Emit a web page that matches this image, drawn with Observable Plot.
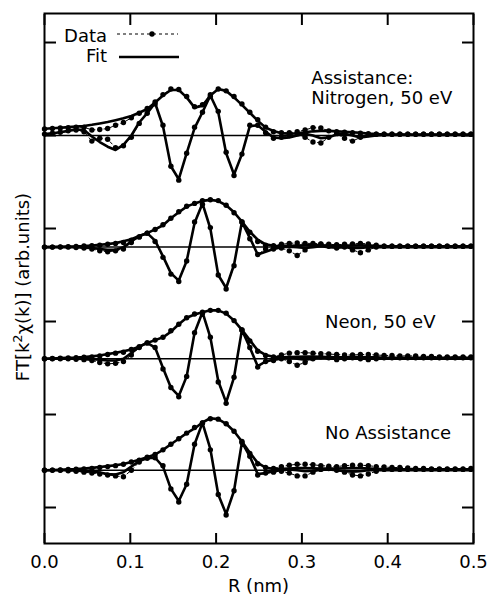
<!DOCTYPE html>
<html><head><meta charset="utf-8">
<script src="https://cdn.jsdelivr.net/npm/d3@7"></script>
<script src="https://cdn.jsdelivr.net/npm/@observablehq/plot@0.6"></script>
<style>
html,body{margin:0;padding:0;background:#fff;}
#chart svg{display:block;}
</style>
</head><body><div id="chart"></div>
<script>
// R grid (nm)
const R = [0,0.0092,0.0184,0.0276,0.0368,0.0460,0.0552,0.0644,0.0736,0.0828,
0.0920,0.1012,0.1104,0.1197,0.1289,0.1381,0.1473,0.1565,0.1657,0.1749,
0.1841,0.1933,0.2025,0.2117,0.2209,0.2301,0.2393,0.2485,0.2577,0.2669,
0.2761,0.2853,0.2945,0.3037,0.3129,0.3221,0.3313,0.3405,0.3497,0.3590,
0.3682,0.3774,0.3866,0.3958,0.4050,0.4142,0.4234,0.4326,0.4418,0.4510,
0.4602,0.4694,0.4786,0.4878,0.4970];

const offsets = [4.0, 2.8, 1.6, 0.4];
const panelLabels = ["Assistance:\nNitrogen, 50 eV", "", "Neon, 50 eV", "No Assistance"];
const labelR = [0.311, 0.311, 0.327, 0.327];
const xTicks = [0, 0.1, 0.2, 0.3, 0.4, 0.5];
const yTicks = [0, 1, 2, 3, 4, 5];

// Panel 1: Nitrogen, 50 eV
const magFit1 = [0.073,0.078,0.084,0.09,0.096,0.102,0.115,0.13,0.146,0.165,
0.185,0.21,0.245,0.285,0.355,0.43,0.49,0.49,0.41,0.30,
0.32,0.43,0.50,0.48,0.41,0.33,0.245,0.16,0.085,0.048,
0.025,0.02,0.025,0.035,0.045,0.05,0.05,0.045,0.04,0.035,
0.03,0.02,0.015,0.01,0.01,0.01,0.01,0.01,0.01,0.01,
0.01,0.01,0.01,0.01,0.01];
const imagFit1 = [0.015,0.025,0.035,0.05,0.065,0.06,-0.01,-0.07,-0.12,-0.155,
-0.10,0.0,0.14,0.24,0.35,0.10,-0.33,-0.47,-0.19,0.08,
0.25,0.43,0.25,-0.19,-0.42,-0.20,0.10,0.11,0.04,-0.02,
-0.03,-0.02,0.0,0.02,0.0,-0.03,-0.02,0.01,0.02,0.0,
-0.02,-0.01,0.0,0.005,0.005,0.005,0.005,0.005,0.005,0.005,
0.005,0.005,0.005,0.005,0.005];
const magData1 = [0.07,0.075,0.08,0.085,0.09,0.09,0.06,0.065,0.075,0.11,
0.14,0.19,0.24,0.29,0.36,0.44,0.50,0.495,0.42,0.31,
0.33,0.44,0.50,0.48,0.42,0.34,0.25,0.17,0.09,0.04,
0.03,0.03,0.04,0.06,0.085,0.08,0.05,0.04,0.035,0.03,
0.025,0.02,0.015,0.013,0.013,0.013,0.013,0.013,0.013,0.013,
0.013,0.013,0.013,0.013,0.013];
const imagData1 = [0.015,0.025,0.035,0.05,0.06,0.04,-0.06,-0.03,-0.04,-0.13,
-0.11,-0.02,0.13,0.24,0.34,0.11,-0.33,-0.48,-0.19,0.09,
0.25,0.42,0.26,-0.18,-0.43,-0.20,0.11,0.11,0.03,-0.03,
-0.02,0.0,0.02,-0.02,-0.07,-0.08,-0.02,0.02,-0.03,-0.06,
-0.02,0.01,0.013,0.013,0.013,0.013,0.013,0.013,0.013,0.013,
0.013,0.013,0.013,0.013,0.013];

// Panel 2 (unlabelled)
const magFit2 = [0.0,0.002,0.004,0.006,0.008,0.012,0.018,0.025,0.032,0.045,
0.062,0.085,0.12,0.15,0.19,0.235,0.31,0.375,0.435,0.47,
0.497,0.508,0.495,0.45,0.375,0.275,0.165,0.08,0.03,0.015,
0.012,0.015,0.018,0.02,0.02,0.02,0.018,0.016,0.016,0.018,
0.02,0.018,0.014,0.01,0.01,0.01,0.01,0.01,0.01,0.01,
0.01,0.01,0.01,0.01,0.01];
const imagFit2 = [0,0,0,0,0,-0.005,-0.01,-0.02,-0.03,-0.03,
0.0,0.06,0.12,0.15,0.07,-0.10,-0.28,-0.36,-0.15,0.26,
0.47,0.20,-0.30,-0.44,-0.19,0.27,0.10,-0.08,-0.05,-0.02,
0.0,0.005,0.0,-0.01,0.0,0.01,0.0,-0.005,0.0,-0.01,
-0.01,0.0,0,0,0,0,0,0,0,0,
0,0,0,0,0];
const magData2 = [0.0,0.0,0.003,0.005,0.008,0.012,0.015,0.02,0.03,0.04,
0.05,0.075,0.11,0.15,0.19,0.24,0.31,0.38,0.44,0.47,
0.50,0.51,0.50,0.45,0.37,0.27,0.16,0.06,0.02,0.015,
0.03,0.04,0.045,0.04,0.04,0.035,0.03,0.025,0.03,0.035,
0.04,0.035,0.02,0.01,0.01,0.01,0.01,0.01,0.01,0.01,
0.01,0.01,0.01,0.01,0.01];
const imagData2 = [0,0,0,0,-0.005,-0.01,-0.02,-0.04,-0.05,-0.04,
-0.02,0.05,0.11,0.15,0.06,-0.11,-0.29,-0.37,-0.15,0.27,
0.46,0.21,-0.30,-0.45,-0.20,0.27,0.09,-0.08,-0.02,-0.02,
-0.01,-0.04,-0.09,-0.03,0.02,0.03,0.01,-0.01,0.0,-0.03,
-0.06,-0.03,0.0,0.01,0.01,0.01,0.01,0.01,0.01,0.01,
0.01,0.01,0.01,0.01,0.01];

// Panel 3: Neon, 50 eV
const magFit3 = [0.0,0.003,0.006,0.01,0.013,0.018,0.025,0.035,0.05,0.065,
0.08,0.10,0.13,0.17,0.20,0.23,0.29,0.37,0.44,0.475,
0.50,0.52,0.52,0.485,0.41,0.31,0.20,0.09,0.04,0.02,
0.015,0.018,0.02,0.022,0.022,0.02,0.018,0.016,0.016,0.018,
0.018,0.016,0.014,0.01,0.01,0.01,0.01,0.01,0.01,0.01,
0.01,0.01,0.01,0.01,0.01];
const imagFit3 = [0,0,0,0,0,-0.003,-0.005,-0.01,-0.02,-0.02,
0.0,0.06,0.13,0.17,0.12,-0.10,-0.31,-0.40,-0.19,0.28,
0.50,0.23,-0.24,-0.47,-0.20,0.31,0.12,-0.08,-0.03,-0.01,
0.0,0.005,0.0,-0.01,0.0,0.005,0,0,0,0,
0,0,0,0,0,0,0,0,0,0,
0,0,0,0,0];
const magData3 = [0.0,0.002,0.005,0.008,0.012,0.015,0.02,0.03,0.045,0.06,
0.07,0.10,0.13,0.17,0.20,0.23,0.30,0.37,0.44,0.48,
0.50,0.52,0.52,0.49,0.41,0.31,0.19,0.08,0.035,0.02,
0.04,0.06,0.065,0.065,0.06,0.055,0.05,0.045,0.04,0.04,
0.045,0.045,0.04,0.035,0.035,0.03,0.03,0.03,0.025,0.025,
0.02,0.02,0.02,0.02,0.02];
const imagData3 = [0,0,0,0,-0.005,-0.01,-0.02,-0.04,-0.055,-0.05,
-0.03,0.04,0.12,0.17,0.12,-0.11,-0.31,-0.41,-0.19,0.28,
0.49,0.23,-0.25,-0.48,-0.20,0.31,0.12,-0.09,-0.03,-0.02,
0.0,-0.03,-0.07,-0.04,0.0,0.02,0.01,-0.01,0.0,0.01,
0.0,-0.01,0.0,0.01,0.01,0.01,0.01,0.01,0.01,0.01,
0.01,0.01,0.01,0.01,0.01];

// Panel 4: No Assistance
const magFit4 = [0,0.003,0.006,0.01,0.014,0.02,0.026,0.035,0.045,0.055,
0.068,0.09,0.113,0.14,0.17,0.22,0.28,0.34,0.40,0.45,
0.515,0.56,0.55,0.50,0.42,0.31,0.19,0.08,0.03,0.015,
0.015,0.02,0.025,0.025,0.022,0.02,0.02,0.02,0.022,0.025,
0.025,0.02,0.015,0.01,0.01,0.01,0.01,0.01,0.01,0.01,
0.01,0.01,0.01,0.01,0.01];
const imagFit4 = [0,0,0,0,-0.003,-0.006,-0.012,-0.025,-0.04,-0.045,
-0.02,0.04,0.10,0.13,0.135,0.04,-0.20,-0.33,-0.15,0.28,
0.51,0.23,-0.26,-0.47,-0.22,0.30,0.15,-0.04,-0.03,-0.01,
0.0,0.01,0.0,-0.01,-0.005,0.005,0.01,0.0,-0.01,-0.015,
-0.01,0.0,0,0,0,0,0,0,0,0,
0,0,0,0,0];
const magData4 = [0,0.002,0.004,0.008,0.012,0.015,0.02,0.03,0.04,0.05,
0.065,0.09,0.11,0.14,0.17,0.22,0.28,0.34,0.40,0.46,
0.51,0.555,0.55,0.50,0.42,0.31,0.18,0.07,0.03,0.02,
0.04,0.055,0.065,0.065,0.06,0.05,0.045,0.04,0.05,0.055,
0.055,0.05,0.04,0.035,0.03,0.03,0.025,0.02,0.02,0.015,
0.015,0.015,0.015,0.015,0.02];
const imagData4 = [0,0,0,-0.005,-0.01,-0.02,-0.03,-0.04,-0.05,-0.06,
-0.07,0.0,0.09,0.13,0.135,0.05,-0.20,-0.34,-0.15,0.28,
0.51,0.22,-0.26,-0.48,-0.22,0.30,0.15,-0.05,-0.03,-0.02,
-0.01,-0.03,-0.06,-0.06,-0.02,0.01,0.02,0.0,-0.02,-0.05,
-0.06,-0.04,-0.01,0.01,0.01,0.01,0.01,0.01,0.01,0.01,
0.01,0.01,0.01,0.01,0.01];

const sets = [
  {mf: magFit1, imf: imagFit1, md: magData1, imd: imagData1},
  {mf: magFit2, imf: imagFit2, md: magData2, imd: imagData2},
  {mf: magFit3, imf: imagFit3, md: magData3, imd: imagData3},
  {mf: magFit4, imf: imagFit4, md: magData4, imd: imagData4}
];
const fitRows = [], dataRows = [];
sets.forEach((s, p) => {
  [["mag", s.mf, s.md], ["imag", s.imf, s.imd]].forEach(([part, f, d]) => {
    R.forEach((r, i) => {
      fitRows.push({R: r, v: offsets[p] + f[i], key: p + part});
      dataRows.push({R: r, v: offsets[p] + d[i], key: p + part});
    });
  });
});
const labelRows = panelLabels.map((t, p) => ({label: t, R: labelR[p], v: offsets[p] + 0.335})).filter(d => d.label);

const FONT = "DejaVu Sans";
const plot = Plot.plot({
  width: 491, height: 595,
  marginLeft: 44, marginRight: 18, marginTop: 13, marginBottom: 52,
  style: {fontFamily: FONT, fontSize: "18px", color: "black", background: "white"},
  x: {domain: [0, 0.5]},
  y: {domain: [-0.387, 5.312]},
  marks: [
    Plot.ruleY(offsets, {stroke: "black", strokeWidth: 1.5}),
    Plot.line(dataRows, {x: "R", y: "v", z: "key", stroke: "black", strokeWidth: 1, strokeDasharray: "3,3"}),
    Plot.line(fitRows, {x: "R", y: "v", z: "key", stroke: "black", strokeWidth: 2.6, strokeLinejoin: "round"}),
    Plot.dot(dataRows, {x: "R", y: "v", r: 2.7, fill: "black", stroke: null}),
    Plot.text(labelRows, {x: "R", y: "v", text: "label", textAnchor: "start", lineAnchor: "bottom", lineHeight: 1.11, fontSize: 18, fill: "black"}),
    Plot.axisX({anchor: "bottom", ticks: xTicks, tickFormat: d3.format(".1f"), tickSize: -10, tickPadding: 22, strokeWidth: 2, label: null, fontSize: 18}),
    Plot.axisX({anchor: "top", ticks: xTicks, tickSize: -11, tickFormat: () => "", strokeWidth: 2, label: null}),
    Plot.axisY({anchor: "left", ticks: yTicks, tickSize: -12, tickFormat: () => "", strokeWidth: 2, label: null}),
    Plot.axisY({anchor: "right", ticks: yTicks, tickSize: -12, tickFormat: () => "", strokeWidth: 2, label: null}),
    Plot.frame({stroke: "black", strokeWidth: 2})
  ]
});
document.getElementById("chart").append(plot);

// Axis titles and legend
const svg = d3.select(plot);
svg.append("text").attr("x", 258.5).attr("y", 592).attr("text-anchor", "middle")
  .attr("font-family", FONT).attr("font-size", 18).attr("fill", "black").text("R (nm)");
const yl = svg.append("text").attr("transform", "translate(29,287) rotate(-90)")
  .attr("text-anchor", "middle").attr("font-family", FONT).attr("font-size", 18).attr("fill", "black");
yl.append("tspan").text("FT[k");
yl.append("tspan").attr("dy", -7).attr("font-size", 13).text("2");
yl.append("tspan").attr("dy", 7).text("χ(k)] (arb.units)");

const legendItems = ["Data", "Fit"];
const lg = svg.append("g").attr("font-family", FONT).attr("font-size", 18).attr("fill", "black");
lg.append("text").attr("x", 107).attr("y", 41.5).attr("text-anchor", "end").text(legendItems[0]);
lg.append("line").attr("x1", 117).attr("x2", 178).attr("y1", 34).attr("y2", 34)
  .attr("stroke", "black").attr("stroke-width", 1.2).attr("stroke-dasharray", "3,3");
lg.append("circle").attr("cx", 152).attr("cy", 34).attr("r", 2.7).attr("fill", "black");
lg.append("text").attr("x", 107).attr("y", 62).attr("text-anchor", "end").text(legendItems[1]);
lg.append("line").attr("x1", 119).attr("x2", 179).attr("y1", 57).attr("y2", 57)
  .attr("stroke", "black").attr("stroke-width", 2.6);
</script>
</body></html>
